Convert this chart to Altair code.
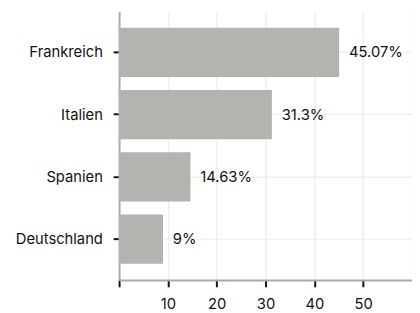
import altair as alt
import pandas as pd

countries = ["Frankreich", "Italien", "Spanien", "Deutschland"]
values = [45.07, 31.3, 14.63, 9]
labels = ["45.07%", "31.3%", "14.63%", "9%"]

df = pd.DataFrame({"country": countries, "value": values, "label": labels})

y = alt.Y("country:N", sort=countries, title=None,
          scale=alt.Scale(paddingInner=0.21, paddingOuter=0.26),
          axis=alt.Axis(domainColor="#aaaaaa", domainWidth=2, tickColor="#111111",
                        tickSize=6, tickWidth=2, labelFontSize=15, labelColor="#111111",
                        labelPadding=11, grid=True, gridColor="#efefef", gridWidth=1.5))
x = alt.X("value:Q", title=None,
          scale=alt.Scale(domain=[0, 60], nice=False),
          axis=alt.Axis(values=[0, 10, 20, 30, 40, 50, 60],
                        labelExpr="datum.value == 0 || datum.value == 60 ? '' : datum.label",
                        tickColor={"expr": "datum.value == 60 ? 'transparent' : '#111111'"},
                        domainColor="#aaaaaa", domainWidth=2, tickSize=7, tickWidth=2,
                        labelFontSize=15, labelColor="#111111", labelPadding=10,
                        grid=True, gridColor="#efefef", gridWidth=1.5))

bars = alt.Chart(df).mark_bar(color="#b4b3af").encode(x=x, y=y)
text = alt.Chart(df).mark_text(align="left", dx=10, fontSize=15, color="#111111",
                                font="Inter").encode(x="value:Q", y=alt.Y("country:N", sort=countries), text="label:N")

chart = (bars + text).properties(
    width=298, height=273,
    autosize=alt.AutoSizeParams(type="none"),
    padding={"left": 113, "top": 1, "right": 0, "bottom": 30},
).configure(font="Inter").configure_view(stroke=None)

chart.save("out.html", embed_options={"renderer": "svg", "actions": False})
